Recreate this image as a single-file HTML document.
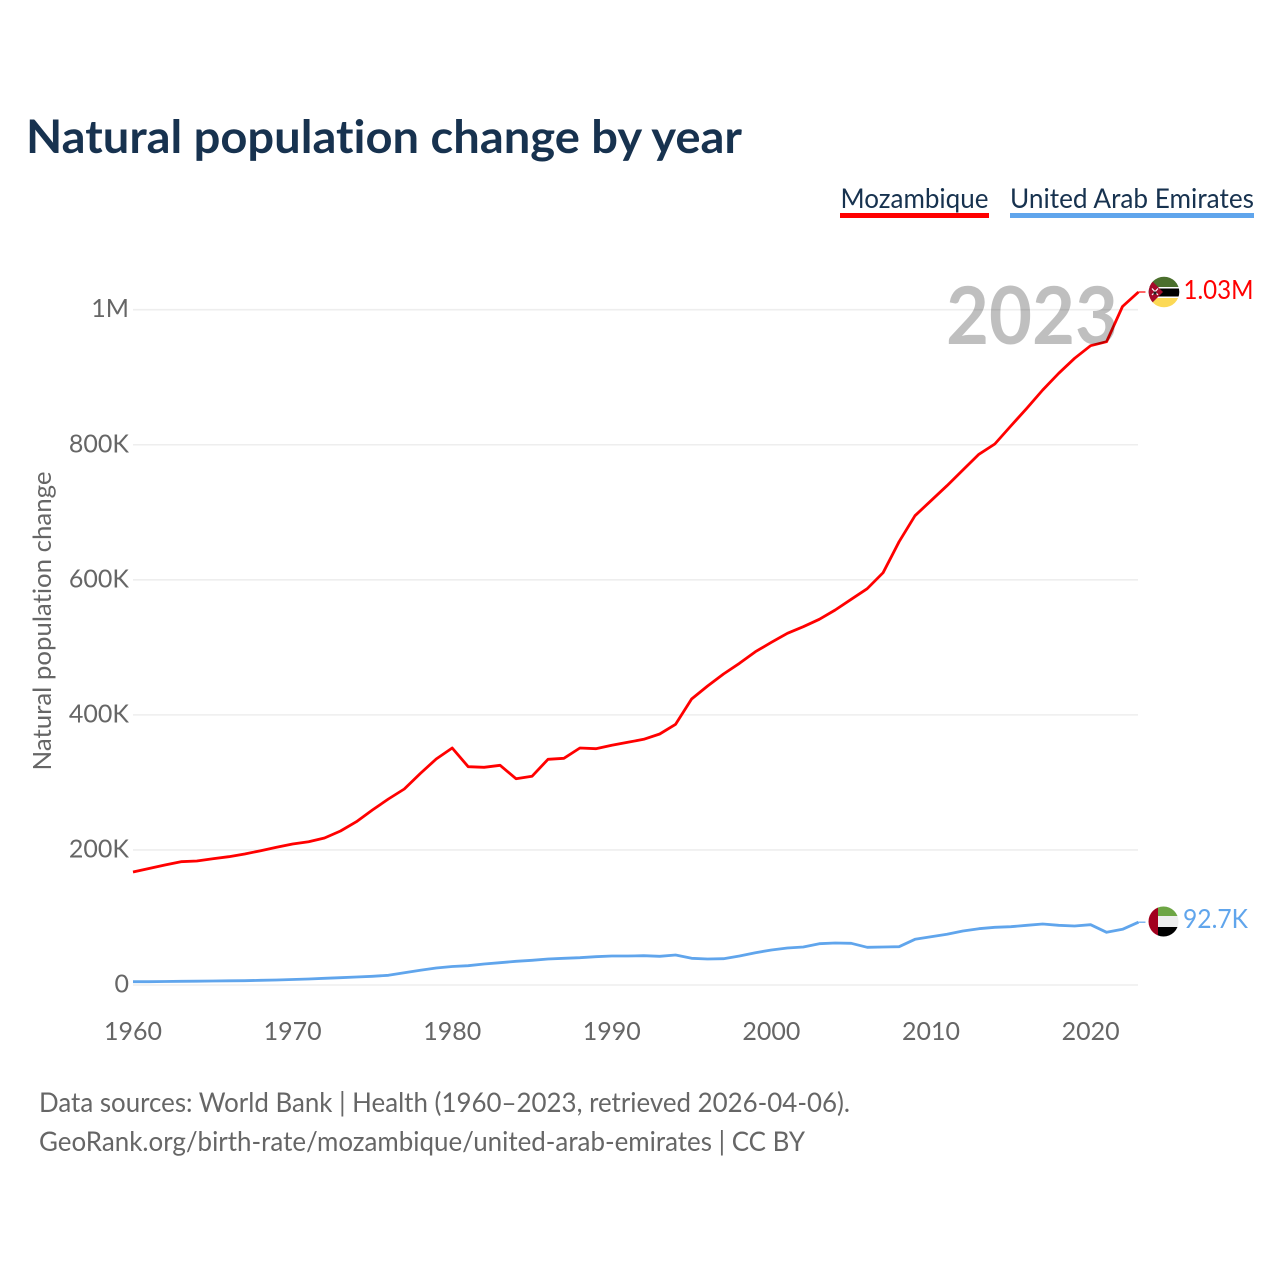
<!DOCTYPE html>
<html lang="en">
<head>
<meta charset="utf-8">
<title>Natural population change by year</title>
<style>
html,body{margin:0;padding:0;background:#fff;width:1280px;height:1280px;overflow:hidden}
svg{display:block}
text{font-family:"Lato","Carlito","Liberation Sans",sans-serif;font-variant-ligatures:none}
</style>
</head>
<body>
<svg id="chart" xmlns="http://www.w3.org/2000/svg" width="1280" height="1280" viewBox="0 0 1280 1280">
  <defs>
    <clipPath id="clip-moz"><circle cx="1164" cy="292" r="15.3"></circle></clipPath>
    <clipPath id="clip-uae"><circle cx="1163.5" cy="921.5" r="15"></circle></clipPath>
  </defs>
  <rect width="1280" height="1280" fill="#fff"></rect>
  <text x="26" y="153" font-size="46" font-weight="700" fill="#17324f" textLength="716" lengthAdjust="spacingAndGlyphs">Natural population change by year</text>

  <g>
    <text x="840.5" y="208" font-size="27" fill="#17324f" textLength="148" lengthAdjust="spacingAndGlyphs">Mozambique</text>
    <rect x="840" y="213" width="149" height="5" fill="#ff0000"></rect>
  </g>
  <g>
    <text x="1010" y="208" font-size="27" fill="#17324f" textLength="244" lengthAdjust="spacingAndGlyphs">United Arab Emirates</text>
    <rect x="1010" y="213" width="244" height="5" fill="#60a5ec"></rect>
  </g>

  <g id="grid"></g>
  <g id="y-ticks"></g>
  <g id="x-ticks"></g>
  <text transform="translate(51,621) rotate(-90)" text-anchor="middle" font-size="25" fill="#666" textLength="299" lengthAdjust="spacingAndGlyphs">Natural population change</text>

  <g id="series"></g>

  <text x="1032" y="344" text-anchor="middle" font-size="80" font-weight="700" fill="#000" fill-opacity="0.25" textLength="172" lengthAdjust="spacingAndGlyphs">2023</text>

  <g clip-path="url(#clip-moz)">
    <rect x="1148" y="276" width="32" height="11" fill="#4b6f2d"></rect>
    <rect x="1148" y="287" width="32" height="11" fill="#fff"></rect>
    <rect x="1148" y="288.5" width="32" height="8" fill="#000"></rect>
    <rect x="1148" y="298" width="32" height="10" fill="#fcd955"></rect>
    <polygon points="1148,277 1163,292 1148,307" fill="#a50b2a"></polygon>
    <path d="M1152 288.5 L1158 295 M1158 288.5 L1152 295" stroke="#fff" stroke-width="1.2"></path>
    <circle cx="1155" cy="293" r="1.6" fill="#222"></circle>
  </g>
  <g clip-path="url(#clip-uae)">
    <rect x="1158" y="906" width="21" height="10" fill="#6da544"></rect>
    <rect x="1158" y="916" width="21" height="11" fill="#eeeeee"></rect>
    <rect x="1158" y="927" width="21" height="10" fill="#000"></rect>
    <rect x="1148" y="906" width="10" height="31" fill="#a2001d"></rect>
  </g>

  <text x="1183.5" y="299" font-size="26" fill="#ff0000" textLength="70" lengthAdjust="spacingAndGlyphs">1.03M</text>
  <text x="1183" y="928" font-size="26" fill="#60a5ec" textLength="65" lengthAdjust="spacingAndGlyphs">92.7K</text>

  <text x="39" y="1112" font-size="27" fill="#666" textLength="811" lengthAdjust="spacingAndGlyphs">Data sources: World Bank | Health (1960–2023, retrieved 2026-04-06).</text>
  <text x="39" y="1151" font-size="27" fill="#666" textLength="766" lengthAdjust="spacingAndGlyphs">GeoRank.org/birth-rate/mozambique/united-arab-emirates | CC BY</text>
</svg>
<script>
const startYear = 1960;
const xTickYears = [1960, 1970, 1980, 1990, 2000, 2010, 2020];
const yTickValues = [0, 200, 400, 600, 800, 1000];
const yTickLabels = ["0", "200K", "400K", "600K", "800K", "1M"];
const mozambique = [167.3,172.5,177.7,182.6,183.6,187.0,190.0,194.0,198.9,203.9,208.8,212.2,217.7,228.0,241.8,259.1,275.4,290.2,313.2,334.7,351.0,323.3,322.4,325.3,305.5,309.0,334.2,335.7,351.0,349.9,354.9,359.4,363.8,371.7,386.1,423.5,442.8,460.5,476.4,493.6,507.5,520.8,530.6,541.5,555.3,571.2,586.8,610.5,656.4,694.9,717.2,739.4,762.6,785.9,801.1,827.8,854.0,881.1,905.8,928.0,946.7,952.6,1004.7,1026.2];
const uae = [4.9,4.9,5.2,5.5,5.6,5.9,6.2,6.4,7.0,7.4,8.1,8.9,9.9,10.8,11.8,12.9,14.4,18.2,21.8,25.2,27.4,28.6,31.1,33.0,35.1,36.6,38.5,39.5,40.4,41.9,42.9,42.9,43.4,42.5,44.4,39.5,38.5,38.9,42.9,47.8,51.8,54.8,56.3,61.2,62.2,61.8,55.8,56.3,56.7,67.7,71.5,75.1,80.0,83.4,85.4,86.3,88.4,90.3,88.4,87.4,89.3,78.0,82.5,93.0];

const NS = 'http://www.w3.org/2000/svg';
function xScale(year) { return 133 + (year - 1960) * 15.96; }
function yScale(v) { return 985 - v * 0.6753; }
function make(tag, attrs, parent, txt) {
  const el = document.createElementNS(NS, tag);
  for (const k in attrs) el.setAttribute(k, attrs[k]);
  if (txt !== undefined) el.textContent = txt;
  parent.appendChild(el);
  return el;
}
const grid = document.getElementById('grid');
const yG = document.getElementById('y-ticks');
const xG = document.getElementById('x-ticks');
const seriesG = document.getElementById('series');

yTickValues.forEach(function (v, i) {
  const line = make('line', {x1: 133, x2: 1138, y1: yScale(v), y2: yScale(v), stroke: '#eeeeee', 'stroke-width': 1.6}, grid);
  
  
  const label = make('text', {x: 129, y: yScale(v) + 7.5, 'text-anchor': 'end', 'font-size': 25, fill: '#666'}, yG, yTickLabels[i]);
  
  
});
xTickYears.forEach(function (yr) {
  const label = make('text', {x: xScale(yr), y: 1040, 'text-anchor': 'middle', 'font-size': 25, fill: '#666'}, xG, String(yr));
  
  
});
function drawSeries(values, color, name) {
  const pts = values.map(function (v, i) { return xScale(startYear + i).toFixed(1) + ',' + yScale(v).toFixed(1); }).join(' ');
  const line = make('polyline', {points: pts, fill: 'none', stroke: color, 'stroke-width': 2.8, 'stroke-linejoin': 'round'}, seriesG);
  
  
  const last = values[values.length - 1];
  const lastX = xScale(startYear + values.length - 1);
  const conn = make('line', {x1: lastX, x2: lastX + 7, y1: yScale(last), y2: yScale(last), stroke: color, 'stroke-width': 1.2}, seriesG);
  
  
}
drawSeries(mozambique, '#ff0000', 'line-mozambique');
drawSeries(uae, '#60a5ec', 'line-uae');
</script>
</body>
</html>
